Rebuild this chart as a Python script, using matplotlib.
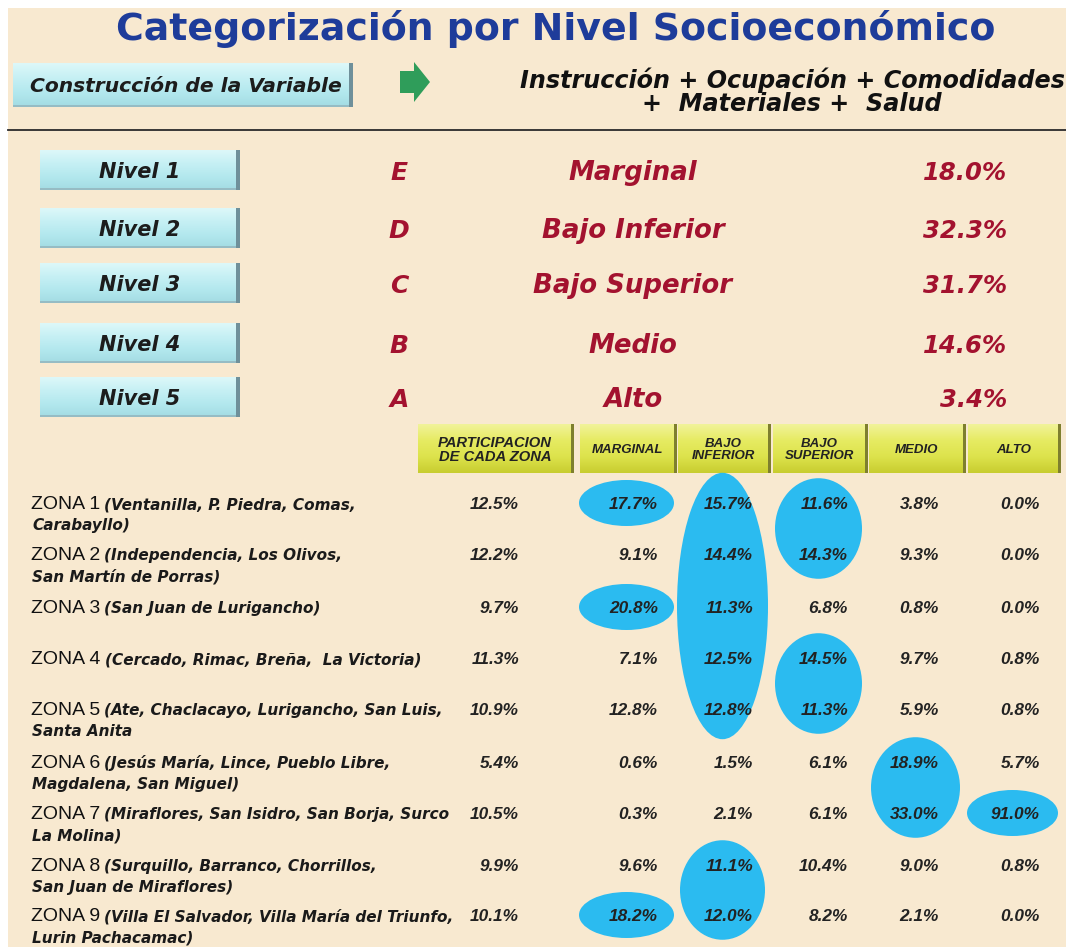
import matplotlib
matplotlib.use("Agg")
import matplotlib.pyplot as plt
import numpy as np
from matplotlib.patches import Rectangle, Ellipse, FancyArrow
from matplotlib.colors import to_rgb

# ---------------- data ----------------
titulo = "Categorización por Nivel Socioeconómico"
construccion = "Construcción de la Variable"
formula_l1 = "Instrucción + Ocupación + Comodidades"
formula_l2 = "+  Materiales +  Salud"

niveles = ["Nivel 1", "Nivel 2", "Nivel 3", "Nivel 4", "Nivel 5"]
letras = ["E", "D", "C", "B", "A"]
categorias = ["Marginal", "Bajo Inferior", "Bajo Superior", "Medio", "Alto"]
pct_nivel = [18.0, 32.3, 31.7, 14.6, 3.4]

encabezados = ["PARTICIPACION\nDE CADA ZONA", "MARGINAL", "BAJO\nINFERIOR",
               "BAJO\nSUPERIOR", "MEDIO", "ALTO"]
zonas = ["ZONA 1", "ZONA 2", "ZONA 3", "ZONA 4", "ZONA 5",
         "ZONA 6", "ZONA 7", "ZONA 8", "ZONA 9"]
distritos_1 = ["(Ventanilla, P. Piedra, Comas,",
               "(Independencia, Los Olivos,",
               "(San Juan de Lurigancho)",
               "(Cercado, Rimac, Breña,  La Victoria)",
               "(Ate, Chaclacayo, Lurigancho, San Luis,",
               "(Jesús María, Lince, Pueblo Libre,",
               "(Miraflores, San Isidro, San Borja, Surco",
               "(Surquillo, Barranco, Chorrillos,",
               "(Villa El Salvador, Villa María del Triunfo,"]
distritos_2 = ["Carabayllo)", "San Martín de Porras)", "", "", "Santa Anita",
               "Magdalena, San Miguel)", "La Molina)", "San Juan de Miraflores)",
               "Lurin Pachacamac)"]

participacion = [12.5, 12.2, 9.7, 11.3, 10.9, 5.4, 10.5, 9.9, 10.1]
marginal = [17.7, 9.1, 20.8, 7.1, 12.8, 0.6, 0.3, 9.6, 18.2]
bajo_inferior = [15.7, 14.4, 11.3, 12.5, 12.8, 1.5, 2.1, 11.1, 12.0]
bajo_superior = [11.6, 14.3, 6.8, 14.5, 11.3, 6.1, 6.1, 10.4, 8.2]
medio = [3.8, 9.3, 0.8, 9.7, 5.9, 18.9, 33.0, 9.0, 2.1]
alto = [0.0, 0.0, 0.0, 0.8, 0.8, 5.7, 91.0, 0.8, 0.0]

# highlighted cells: (column index, first row, last row)
destacados = [(1, 0, 0), (1, 2, 2), (1, 8, 8),
              (2, 0, 4), (2, 7, 8),
              (3, 0, 1), (3, 3, 4),
              (4, 5, 6), (5, 6, 6)]

# ---------------- layout ----------------
W, H = 1066, 947
DJ = "DejaVu Sans"
LS = "Liberation Sans"
RED = "#A3122F"
BLUE_T = "#1E3C9A"
DARK = "#1C1C1C"
CREAM = "#F8E9D0"
ELL = "#2BBBF0"

nivel_y = [170, 228, 283, 343, 397]
col_x0 = [418, 580, 678, 773, 869, 968]
col_x1 = [574, 677, 771, 868, 966, 1061]
val_right = [519, 658, 753, 848, 939, 1040]
row_y = [503, 554, 607, 658, 709, 762, 813, 865, 915]
head_y0, head_y1 = 424, 473

fig = plt.figure(figsize=(W / 100, H / 100), dpi=100, facecolor="white")
ax = fig.add_axes([0, 0, 1, 1])
ax.set_axis_off()

ax.add_patch(Rectangle((8, 8), W - 8, H - 8, color=CREAM, lw=0, zorder=0))


def ctext(x, yc, s, fs, ha="center", **kw):
    """place text so that its cap height is centred on yc"""
    return ax.text(x, yc + 0.36 * fs * 100 / 72, s, fontsize=fs, ha=ha,
                   va="baseline", zorder=5, **kw)


def grad_box(x0, y0, x1, y1, colors, shadow, sw=3, bottom=None, z=1):
    n = 64
    stops = np.linspace(0, 1, len(colors))
    t = np.linspace(0, 1, n)
    rgb = np.array([to_rgb(c) for c in colors])
    arr = np.stack([np.interp(t, stops, rgb[:, k]) for k in range(3)], axis=-1)[:, None, :]
    ax.imshow(arr, extent=(x0, x1, y1, y0), aspect="auto", zorder=z,
              interpolation="bilinear")
    if bottom is not None:
        ax.add_patch(Rectangle((x0, y1 - 2), x1 - x0, 2, color=bottom, lw=0, zorder=z + 0.1))
    ax.add_patch(Rectangle((x1 - sw, y0), sw, y1 - y0, color=shadow, lw=0, zorder=z + 0.2))


CYAN = ["#DDF8F9", "#C6F0F4", "#B3E8EE", "#A3DCE3"]
YELL = ["#F1F39A", "#E6EB62", "#DDE34C", "#C8CD30"]

# ---------------- title & construction ----------------
ctext(556, 26, titulo, 27.3, weight="bold", color=BLUE_T, family=DJ)

grad_box(13, 63, 353, 107, CYAN, "#6F909A", sw=4, bottom="#96BCC4")
ctext(186, 85, construccion, 14.6, weight="bold", style="italic", color=DARK, family=DJ)

ax.add_patch(FancyArrow(400, 82, 30, 0, width=22, head_width=40, head_length=16,
                        length_includes_head=True, color="#2F9D5A", lw=0, zorder=3))

ax.text(792, 92, formula_l1 + "\n" + formula_l2, ha="center", va="center",
        multialignment="center", linespacing=0.93, fontsize=17.2, weight="bold",
        style="italic", color="#111111", family=DJ, zorder=5)

ax.plot([8, W], [130, 130], color="#2A2A2A", lw=1.3, zorder=3)

# ---------------- niveles ----------------
for i in range(len(niveles)):
    yc = nivel_y[i]
    grad_box(40, yc - 20, 240, yc + 20, CYAN, "#6F909A", sw=4, bottom="#96BCC4")
    ctext(140, yc, niveles[i], 15, weight="bold", style="italic", color=DARK, family=DJ)
    ctext(399, yc + 1, letras[i], 18, weight="bold", style="italic", color=RED, family=DJ)
    ctext(633, yc + 1, categorias[i], 18.7, weight="bold", style="italic", color=RED, family=DJ)
    ctext(1007, yc + 1, f"{pct_nivel[i]:.1f}%", 17.5, ha="right", weight="bold",
          style="italic", color=RED, family=DJ)

# ---------------- table header ----------------
for j, lab in enumerate(encabezados):
    grad_box(col_x0[j], head_y0, col_x1[j], head_y1, YELL, "#7E7F2E", sw=3)
    ax.text((col_x0[j] + col_x1[j]) / 2 - 1, (head_y0 + head_y1) / 2 + 1, lab,
            ha="center", va="center", fontsize=10.6 if j == 0 else 9.5,
            weight="bold", style="italic", color="#222222", family=LS,
            linespacing=1.0, zorder=5)

# ---------------- highlight ellipses ----------------
for j, r0, r1 in destacados:
    cx = (col_x0[j] + col_x1[j]) / 2 - 2
    cy = (row_y[r0] + row_y[r1]) / 2
    span = row_y[r1] - row_y[r0]
    h = 46 + span * 1.07
    w = (col_x1[j] - col_x0[j]) - (8 if r1 - r0 == 1 else 2)
    ax.add_patch(Ellipse((cx, cy), w, h, color=ELL, lw=0, zorder=2))

# ---------------- table body ----------------
columnas = [participacion, marginal, bajo_inferior, bajo_superior, medio, alto]
for i in range(len(zonas)):
    yb = row_y[i] - 1 + 7
    t = ax.text(31, yb, zonas[i], fontsize=14, family=LS, color="#111111",
                ha="left", va="baseline", zorder=5)
    ax.annotate(distritos_1[i], xy=(1, yb), xycoords=(t, "data"),
                xytext=(3, 0), textcoords="offset points", ha="left", va="baseline",
                fontsize=11, family=DJ, weight="bold", style="italic",
                color="#1A1A1A", zorder=5)
    if distritos_2[i]:
        ax.text(32, yb + 21, distritos_2[i], fontsize=11, family=DJ, weight="bold",
                style="italic", color="#1A1A1A", ha="left", va="baseline", zorder=5)
    for j, col in enumerate(columnas):
        ctext(val_right[j], row_y[i], f"{col[i]:.1f}%", 12.4, ha="right",
              weight="bold", style="italic", color="#222222", family=LS)

ax.set_xlim(0, W)
ax.set_ylim(H, 0)
fig.savefig("out.png", dpi=100, facecolor="white")
